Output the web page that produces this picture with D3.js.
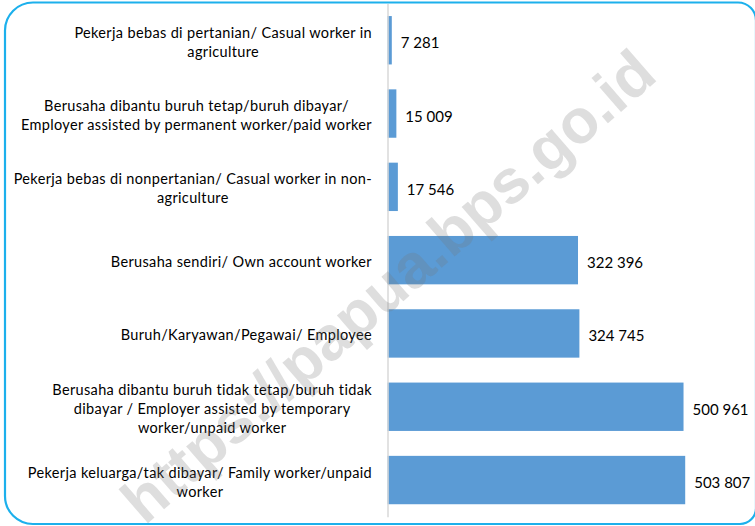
<!DOCTYPE html>
<html>
<head>
    <meta charset="utf-8">
    <script src="https://d3js.org/d3.v7.min.js"></script>
    <style>
        body { margin: 0; background: #fff; }
        text { font-family: Lato, "Open Sans", sans-serif; fill: #000; }
    </style>
</head>
<body>
    <script>
        // categories, top to bottom, each split into its printed lines
        var categories = [
            ["Pekerja bebas di pertanian/ Casual worker in", "agriculture"],
            ["Berusaha dibantu buruh tetap/buruh dibayar/", "Employer assisted by permanent worker/paid worker"],
            ["Pekerja bebas di nonpertanian/ Casual worker in non-", "agriculture"],
            ["Berusaha sendiri/ Own account worker"],
            ["Buruh/Karyawan/Pegawai/ Employee"],
            ["Berusaha dibantu buruh tidak tetap/buruh tidak", "dibayar / Employer assisted by temporary", "worker/unpaid worker"],
            ["Pekerja keluarga/tak dibayar/ Family worker/unpaid", "worker"]
        ];
        var values = [7281, 15009, 17546, 322396, 324745, 500961, 503807];
        var watermark = "https://papua.bps.go.id";

        var width = 755, height = 526;

        var svg = d3.select("body").append("svg")
            .attr("width", width)
            .attr("height", height);

        // rounded frame
        svg.append("path")
            .attr("d", "M33,2.5 H738 A18,18 0 0 1 756,20.5 V508 A16,16 0 0 1 740,524 H33 A28,28 0 0 1 5,496 V30.5 A28,28 0 0 1 33,2.5 Z")
            .attr("fill", "none")
            .attr("stroke", "#1cb0ec")
            .attr("stroke-width", 2.2);

        var idx = d3.range(values.length);

        var x = d3.scaleLinear()
            .domain([0, 550000])
            .range([387.5, 712.5]);

        var y = d3.scaleBand()
            .domain(idx)
            .range([3.6, 516.7])
            .paddingInner(0.34)
            .paddingOuter(0.17);

        var fmt = function(v) { return d3.format(",")(v).replace(/,/g, " "); };

        svg.append("g")
            .selectAll("rect")
            .data(idx)
            .enter().append("rect")
            .attr("x", x(0))
            .attr("y", d => y(d))
            .attr("width", d => x(values[d]) - x(0))
            .attr("height", y.bandwidth())
            .style("fill", "#5b9bd5");

        // category axis line
        var axis = svg.append("g")
            .attr("transform", "translate(" + x(0) + ",0)")
            .call(d3.axisLeft(y).tickSize(0).tickFormat(""));
        axis.select(".domain").attr("stroke", "#d9d9d9").attr("stroke-width", 1.5);

        // value labels
        svg.append("g")
            .selectAll("text")
            .data(idx)
            .enter().append("text")
            .attr("x", d => x(values[d]) + 9)
            .attr("y", d => y(d) + y.bandwidth() / 2 + 2)
            .attr("dominant-baseline", "central")
            .style("font-size", "15px")
            .text(d => fmt(values[d]));

        // category labels, lines centred on each other, block right-aligned
        var lineH = 19, labelRight = 372;
        var labels = svg.append("g")
            .selectAll("g")
            .data(idx)
            .enter().append("g");

        labels.each(function(d) {
            var g = d3.select(this);
            var lines = categories[d];
            var cy = y(d) + y.bandwidth() / 2 + 1.5;
            var t = g.selectAll("text")
                .data(lines)
                .enter().append("text")
                .attr("y", (s, i) => cy + (i - (lines.length - 1) / 2) * lineH)
                .attr("dominant-baseline", "central")
                .attr("text-anchor", "middle")
                .style("font-size", "14.5px")
                .style("letter-spacing", "0.35px")
                .text(s => s);
            var maxW = d3.max(t.nodes(), n => n.getComputedTextLength());
            t.attr("x", labelRight - maxW / 2);
        });

        // watermark on top
        svg.append("text")
            .attr("transform", "translate(388,286) rotate(-41)")
            .attr("text-anchor", "middle")
            .attr("dominant-baseline", "central")
            .style("font-family", "'Liberation Sans', Arial, sans-serif")
            .style("font-weight", "bold")
            .style("font-size", "62px")
            .style("fill", "#777")
            .style("fill-opacity", 0.24)
            .text(watermark);
    </script>
</body>
</html>
